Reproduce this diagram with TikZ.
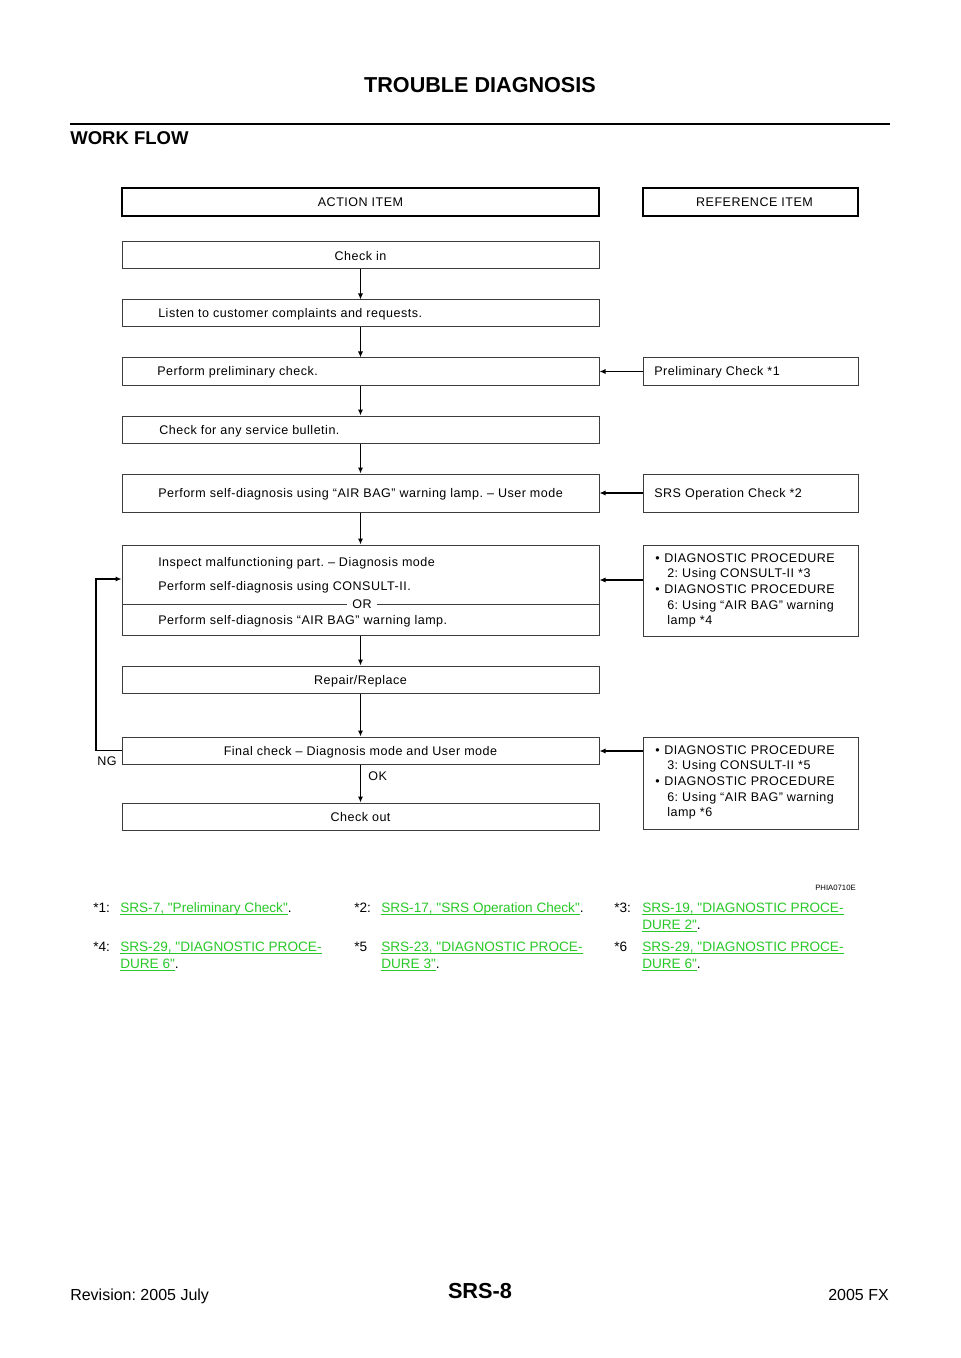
\documentclass[tikz,border=0pt]{standalone}
\usepackage{fontspec}
\setmainfont{Liberation Sans}
\newfontfamily\flowfont[LetterSpace=4]{Liberation Sans}
\newfontfamily\fnfont[Ligatures=TeXOff]{Liberation Sans}
\usetikzlibrary{arrows.meta}
\definecolor{linkgreen}{RGB}{40,200,40}
\definecolor{boxline}{RGB}{60,60,60}
\newcommand\lnkline[1]{\underline{\smash{#1}}}
\frenchspacing
\begin{document}
\begin{tikzpicture}[x=0.75pt,y=-0.75pt,
  ftxt/.style={font=\flowfont\fontsize{9.4}{11}\selectfont, inner sep=0pt},
  lbox/.style={draw=boxline, line width=0.75pt, minimum width=357.75pt, minimum height=20.25pt, inner sep=0pt, text height=6.8pt, text depth=0pt, ftxt},
  rbox/.style={lbox, minimum width=161.25pt},
  hbox/.style={line width=1.6pt, draw=black},
  fn/.style={font=\fnfont\fontsize{10.2}{12}\selectfont, inner sep=0pt, anchor=base west},
  lnk/.style={fn, text=linkgreen},
  arr/.style={draw=black, line width=0.8pt, -{Latex[length=4.5pt,width=3.8pt]}},
  lin/.style={draw=boxline, line width=0.75pt}
]
\useasboundingbox[fill=white] (0,0) rectangle (960,1358);

% page header
\node[font=\bfseries\fontsize{16.2}{18}\selectfont, inner sep=0pt, anchor=base] (title) at (480,93) {TROUBLE DIAGNOSIS};
\coordinate (ruleL) at (70,124);
\coordinate (ruleR) at (890,124);
\draw[line width=2.2pt] (ruleL) -- (ruleR);
\node[font=\bfseries\fontsize{13.9}{16}\selectfont, inner sep=0pt, anchor=base west] (wf) at (70,145) {WORK FLOW};

% column headers
\node[lbox, hbox, minimum height=21pt] (act) at (360.5,202) {ACTION ITEM};
\node[rbox, hbox, minimum height=21pt] (ref) at (750.5,202) {};
\node[ftxt, anchor=base] (reft) at (754.5,206.5) {REFERENCE ITEM};

% action boxes
\node[lbox] (n1) at (360.5,255.5) {Check in};
\node[lbox] (n2) at (360.5,313.5) {};
\node[ftxt, anchor=base west] (t2) at (158,318) {Listen to customer complaints and requests.};
\node[lbox] (n3) at (360.5,371.5) {};
\node[ftxt, anchor=base west] (t3) at (157,376) {Perform preliminary check.};
\node[lbox] (n4) at (360.5,429.5) {};
\node[ftxt, anchor=base west] (t4) at (159,434) {Check for any service bulletin.};
\node[lbox, minimum height=28.5pt] (n5) at (360.5,493) {};
\node[ftxt, anchor=base west] (t5) at (158,497.5) {Perform self-diagnosis using “AIR BAG” warning lamp. – User mode};
\node[lbox, minimum height=67.5pt] (n6) at (360.5,590) {};
\node[ftxt, anchor=base west] (t6a) at (158,566.5) {Inspect malfunctioning part. – Diagnosis mode};
\node[ftxt, anchor=base west] (t6b) at (158,590.5) {Perform self-diagnosis using CONSULT-II.};
\coordinate (orL) at (122,604);
\coordinate (orR) at (599,604);
\draw[lin] (orL) -- (orR);
\node[ftxt, fill=white, inner xsep=4pt, anchor=base] (or) at (362,608.5) {OR};
\node[ftxt, anchor=base west] (t6c) at (158,624.5) {Perform self-diagnosis “AIR BAG” warning lamp.};
\node[lbox] (n7) at (360.5,679.5) {Repair/Replace};
\node[lbox] (n8) at (360.5,750.5) {Final check – Diagnosis mode and User mode};
\node[lbox] (n9) at (360.5,816.5) {Check out};

% reference boxes
\node[rbox] (r1) at (750.5,371.5) {};
\node[ftxt, anchor=base west] (tr1) at (654,376) {Preliminary Check *1};
\node[rbox, minimum height=28.5pt] (r2) at (750.5,493) {};
\node[ftxt, anchor=base west] (tr2) at (654,497.5) {SRS Operation Check *2};
\node[rbox, minimum height=68.25pt] (r3) at (750.5,590.5) {};
\node[ftxt, anchor=base west] (b3a) at (655,562.5) {•};
\node[ftxt, anchor=base west] (tr3a) at (664,562.5) {DIAGNOSTIC PROCEDURE};
\node[ftxt, anchor=base west] (tr3b) at (667,577.5) {2: Using CONSULT-II *3};
\node[ftxt, anchor=base west] (b3b) at (655,593.5) {•};
\node[ftxt, anchor=base west] (tr3c) at (664,593.5) {DIAGNOSTIC PROCEDURE};
\node[ftxt, anchor=base west] (tr3d) at (667,609.5) {6: Using “AIR BAG” warning};
\node[ftxt, anchor=base west] (tr3e) at (667,624.5) {lamp *4};
\node[rbox, minimum height=69pt] (r4) at (750.5,783) {};
\node[ftxt, anchor=base west] (b4a) at (655,754.5) {•};
\node[ftxt, anchor=base west] (tr4a) at (664,754.5) {DIAGNOSTIC PROCEDURE};
\node[ftxt, anchor=base west] (tr4b) at (667,769.5) {3: Using CONSULT-II *5};
\node[ftxt, anchor=base west] (b4b) at (655,785.5) {•};
\node[ftxt, anchor=base west] (tr4c) at (664,785.5) {DIAGNOSTIC PROCEDURE};
\node[ftxt, anchor=base west] (tr4d) at (667,801.5) {6: Using “AIR BAG” warning};
\node[ftxt, anchor=base west] (tr4e) at (667,816.5) {lamp *6};

% vertical flow arrows
\draw[arr] (n1) -- (n2);
\draw[arr] (n2) -- (n3);
\draw[arr] (n3) -- (n4);
\draw[arr] (n4) -- (n5);
\draw[arr] (n5) -- (n6);
\draw[arr] (n6) -- (n7);
\draw[arr] (n7) -- (n8);
\draw[arr] (n8) -- (n9);
\node[ftxt, anchor=base west] (ok) at (368,780) {OK};

% reference arrows
\draw[arr] (r1) -- (n3);
\draw[arr] (r2) -- (n5);
\coordinate (a3) at (643,580);
\draw[arr] (a3) -- (a3 -| n6.east);
\coordinate (a4) at (643,751);
\draw[arr] (a4) -- (a4 -| n8.east);

% NG loop
\coordinate (ng) at (96,579);
\draw[arr] (n8.west) -| (ng) -- (ng -| n6.west);
\node[ftxt, anchor=base west] (ngl) at (97,765) {NG};

\node[font=\fontsize{5.8}{7}\selectfont, inner sep=0pt, anchor=base east] (code) at (856,890) {PHIA0710E};

% footnotes
\node[fn] (f1) at (93,912) {*1:};
\node[lnk] (l1) at (120,912) {\lnkline{SRS-7, "Preliminary Check"}\textcolor{black}{.}};
\node[fn] (f2) at (354,912) {*2:};
\node[lnk] (l2) at (381,912) {\lnkline{SRS-17, "SRS Operation Check"}\textcolor{black}{.}};
\node[fn] (f3) at (614,912) {*3:};
\node[lnk] (l3a) at (642,912) {\lnkline{SRS-19, "DIAGNOSTIC PROCE-}};
\node[lnk] (l3b) at (642,929) {\lnkline{DURE 2"}\textcolor{black}{.}};
\node[fn] (f4) at (93,951) {*4:};
\node[lnk] (l4a) at (120,951) {\lnkline{SRS-29, "DIAGNOSTIC PROCE-}};
\node[lnk] (l4b) at (120,968) {\lnkline{DURE 6"}\textcolor{black}{.}};
\node[fn] (f5) at (354,951) {*5};
\node[lnk] (l5a) at (381,951) {\lnkline{SRS-23, "DIAGNOSTIC PROCE-}};
\node[lnk] (l5b) at (381,968) {\lnkline{DURE 3"}\textcolor{black}{.}};
\node[fn] (f6) at (614,951) {*6};
\node[lnk] (l6a) at (642,951) {\lnkline{SRS-29, "DIAGNOSTIC PROCE-}};
\node[lnk] (l6b) at (642,968) {\lnkline{DURE 6"}\textcolor{black}{.}};

% page footer
\node[font=\fontsize{12}{14}\selectfont, inner sep=0pt, anchor=base west] (rev) at (70,1300) {Revision: 2005 July};
\node[font=\bfseries\fontsize{16.3}{18}\selectfont, inner sep=0pt, anchor=base] (pg) at (480,1298) {SRS-8};
\node[font=\fontsize{12}{14}\selectfont, inner sep=0pt, anchor=base east] (model) at (889,1300) {2005 FX};
\end{tikzpicture}
\end{document}
